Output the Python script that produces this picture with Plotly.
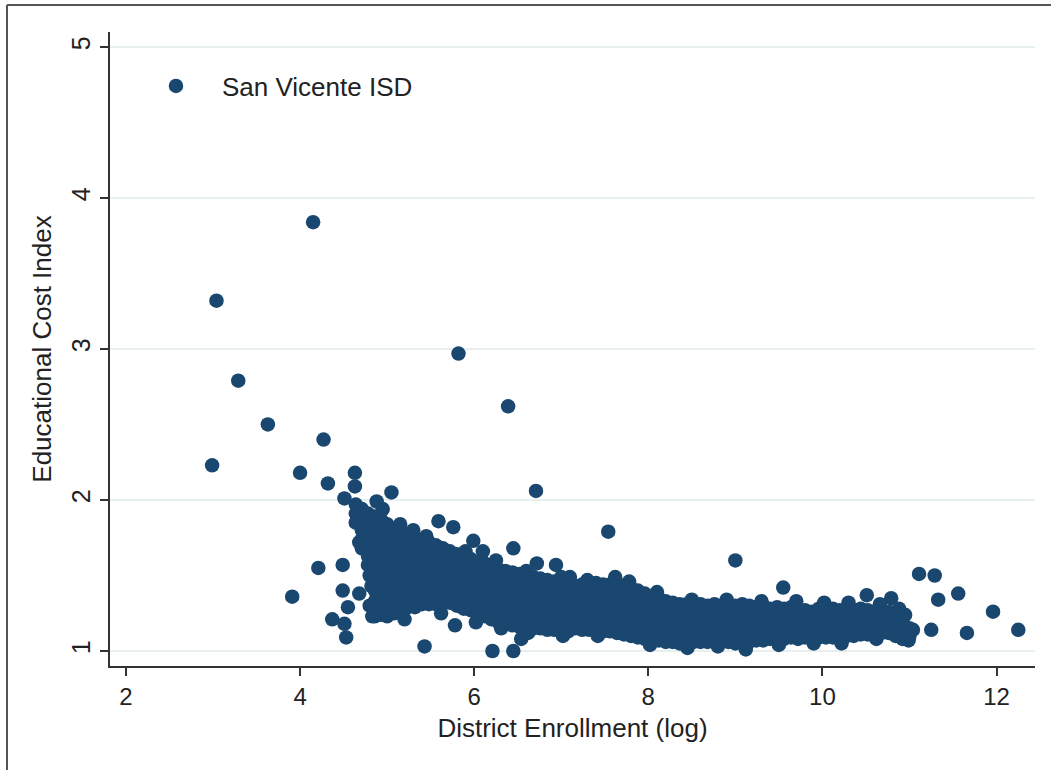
import plotly.graph_objects as go

# ---- scattered / edge points (log enrollment, cost index) ----
scatter_x = [2.99, 3.04, 3.29, 3.63, 3.91, 4.00, 4.15, 4.21, 4.27, 4.32, 4.37, 4.49, 4.49,
             4.55, 4.51, 4.53, 4.51, 4.63, 4.63, 4.68, 4.68, 4.88, 4.95, 5.05, 5.43, 5.30,
             5.59, 5.76, 5.78, 5.82, 5.99, 6.10, 6.21, 6.31, 6.39, 6.45, 6.45, 6.54, 6.71,
             6.72, 6.94, 7.10, 7.54, 9.00, 9.55, 10.51, 10.79, 10.88, 11.04, 10.99, 11.11,
             11.29, 11.33, 11.56, 11.25, 11.66, 11.96, 12.25]
scatter_y = [2.23, 3.32, 2.79, 2.50, 1.36, 2.18, 3.84, 1.55, 2.40, 2.11, 1.21, 1.57, 1.40,
             1.29, 1.18, 1.09, 2.01, 2.18, 2.09, 1.72, 1.38, 1.99, 1.94, 2.05, 1.03, 1.80,
             1.86, 1.82, 1.17, 2.97, 1.73, 1.66, 1.00, 1.15, 2.62, 1.68, 1.00, 1.08, 2.06,
             1.58, 1.57, 1.49, 1.79, 1.60, 1.42, 1.37, 1.35, 1.28, 1.14, 1.07, 1.51,
             1.50, 1.34, 1.38, 1.14, 1.12, 1.26, 1.14]

# ---- ragged edge points of the main cloud ----
edge_x = [4.80, 4.82, 5.15, 5.45, 5.90, 6.25, 6.60, 7.00, 7.30, 7.62, 7.78, 8.10, 8.50,
          8.90, 9.30, 9.70, 10.02, 10.30, 10.66, 10.95,
          5.20, 5.62, 6.02, 6.62, 7.02, 7.42, 8.02, 8.45, 8.80, 9.12, 9.50, 9.90,
          10.22, 10.62, 4.80, 4.83]
edge_y = [1.50, 1.43, 1.84, 1.76, 1.66, 1.60, 1.53, 1.49, 1.47, 1.49, 1.46, 1.39, 1.34,
          1.34, 1.33, 1.33, 1.32, 1.32, 1.31, 1.24,
          1.21, 1.25, 1.19, 1.12, 1.10, 1.10, 1.04, 1.02, 1.03, 1.01, 1.04, 1.05,
          1.05, 1.08, 1.30, 1.23]

# ---- dense cloud, small districts (log enrollment 4.6 - 6.0) ----
small_x = [4.64, 4.64, 4.64,
           4.71, 4.71, 4.71, 4.71, 4.71,
           4.78, 4.78, 4.78, 4.78, 4.78, 4.78,
           4.86, 4.86, 4.86, 4.86, 4.86, 4.86, 4.86, 4.86, 4.86, 4.86, 4.86,
           4.93, 4.93, 4.93, 4.93, 4.93, 4.93, 4.93, 4.93, 4.93, 4.93,
           5.00, 5.00, 5.00, 5.00, 5.00, 5.00, 5.00, 5.00, 5.00, 5.00,
           5.08, 5.08, 5.08, 5.08, 5.08, 5.08, 5.08, 5.08, 5.08,
           5.16, 5.16, 5.16, 5.16, 5.16, 5.16, 5.16, 5.16, 5.16,
           5.24, 5.24, 5.24, 5.24, 5.24, 5.24, 5.24, 5.24,
           5.32, 5.32, 5.32, 5.32, 5.32, 5.32, 5.32, 5.32,
           5.40, 5.40, 5.40, 5.40, 5.40, 5.40, 5.40,
           5.48, 5.48, 5.48, 5.48, 5.48, 5.48, 5.48,
           5.56, 5.56, 5.56, 5.56, 5.56, 5.56, 5.56,
           5.64, 5.64, 5.64, 5.64, 5.64, 5.64, 5.64,
           5.72, 5.72, 5.72, 5.72, 5.72, 5.72,
           5.80, 5.80, 5.80, 5.80, 5.80, 5.80,
           5.88, 5.88, 5.88, 5.88, 5.88, 5.88,
           5.96, 5.96, 5.96, 5.96, 5.96, 5.96]
small_y = [1.97, 1.91, 1.85,
           1.94, 1.87, 1.80, 1.74, 1.68,
           1.91, 1.84, 1.77, 1.70, 1.63, 1.57,
           1.89, 1.82, 1.75, 1.68, 1.61, 1.54, 1.47, 1.40, 1.33, 1.27, 1.23,
           1.87, 1.80, 1.73, 1.66, 1.59, 1.52, 1.45, 1.38, 1.31, 1.24,
           1.84, 1.77, 1.70, 1.63, 1.56, 1.49, 1.42, 1.35, 1.28, 1.23,
           1.81, 1.74, 1.67, 1.60, 1.53, 1.46, 1.39, 1.32, 1.25,
           1.79, 1.72, 1.65, 1.58, 1.51, 1.44, 1.37, 1.30, 1.26,
           1.77, 1.70, 1.63, 1.56, 1.49, 1.42, 1.35, 1.29,
           1.75, 1.68, 1.61, 1.54, 1.47, 1.40, 1.33, 1.29,
           1.73, 1.66, 1.59, 1.52, 1.45, 1.38, 1.31,
           1.72, 1.65, 1.58, 1.51, 1.44, 1.37, 1.31,
           1.70, 1.63, 1.56, 1.49, 1.42, 1.35, 1.31,
           1.68, 1.61, 1.54, 1.47, 1.40, 1.33, 1.32,
           1.66, 1.59, 1.52, 1.45, 1.38, 1.32,
           1.64, 1.57, 1.50, 1.43, 1.36, 1.30,
           1.63, 1.56, 1.49, 1.42, 1.35, 1.28,
           1.61, 1.54, 1.47, 1.40, 1.33, 1.27]

# ---- dense cloud, mid-size districts (log enrollment 6.0 - 8.2) ----
mid_x = [6.04, 6.04, 6.04, 6.04, 6.04, 6.04,
         6.12, 6.12, 6.12, 6.12, 6.12, 6.12,
         6.20, 6.20, 6.20, 6.20, 6.20, 6.20,
         6.28, 6.28, 6.28, 6.28, 6.28, 6.28,
         6.36, 6.36, 6.36, 6.36, 6.36, 6.36,
         6.44, 6.44, 6.44, 6.44, 6.44, 6.44,
         6.52, 6.52, 6.52, 6.52, 6.52, 6.52,
         6.60, 6.60, 6.60, 6.60, 6.60, 6.60,
         6.68, 6.68, 6.68, 6.68, 6.68, 6.68,
         6.76, 6.76, 6.76, 6.76, 6.76, 6.76,
         6.84, 6.84, 6.84, 6.84, 6.84, 6.84,
         6.92, 6.92, 6.92, 6.92, 6.92, 6.92,
         7.00, 7.00, 7.00, 7.00, 7.00, 7.00,
         7.08, 7.08, 7.08, 7.08, 7.08, 7.08,
         7.16, 7.16, 7.16, 7.16, 7.16,
         7.24, 7.24, 7.24, 7.24, 7.24, 7.24,
         7.32, 7.32, 7.32, 7.32, 7.32, 7.32,
         7.40, 7.40, 7.40, 7.40, 7.40, 7.40,
         7.48, 7.48, 7.48, 7.48, 7.48, 7.48,
         7.56, 7.56, 7.56, 7.56, 7.56, 7.56,
         7.64, 7.64, 7.64, 7.64, 7.64, 7.64,
         7.72, 7.72, 7.72, 7.72, 7.72, 7.72,
         7.80, 7.80, 7.80, 7.80, 7.80, 7.80,
         7.88, 7.88, 7.88, 7.88, 7.88, 7.88,
         7.96, 7.96, 7.96, 7.96, 7.96, 7.96,
         8.04, 8.04, 8.04, 8.04, 8.04,
         8.12, 8.12, 8.12, 8.12, 8.12,
         8.20, 8.20, 8.20, 8.20, 8.20]
mid_y = [1.59, 1.52, 1.45, 1.38, 1.31, 1.25,
         1.58, 1.51, 1.44, 1.37, 1.30, 1.23,
         1.56, 1.49, 1.42, 1.35, 1.28, 1.21,
         1.54, 1.47, 1.40, 1.33, 1.26, 1.19,
         1.53, 1.46, 1.39, 1.32, 1.25, 1.18,
         1.52, 1.45, 1.38, 1.31, 1.24, 1.17,
         1.51, 1.44, 1.37, 1.30, 1.23, 1.16,
         1.50, 1.43, 1.36, 1.29, 1.22, 1.16,
         1.49, 1.42, 1.35, 1.28, 1.21, 1.15,
         1.48, 1.41, 1.34, 1.27, 1.20, 1.15,
         1.47, 1.40, 1.33, 1.26, 1.19, 1.14,
         1.46, 1.39, 1.32, 1.25, 1.18, 1.14,
         1.45, 1.38, 1.31, 1.24, 1.17, 1.13,
         1.44, 1.37, 1.30, 1.23, 1.16, 1.13,
         1.43, 1.36, 1.29, 1.22, 1.15,
         1.44, 1.37, 1.30, 1.23, 1.16, 1.14,
         1.44, 1.37, 1.30, 1.23, 1.16, 1.14,
         1.45, 1.38, 1.31, 1.24, 1.17, 1.14,
         1.44, 1.37, 1.30, 1.23, 1.16, 1.13,
         1.44, 1.37, 1.30, 1.23, 1.16, 1.13,
         1.45, 1.38, 1.31, 1.24, 1.17, 1.12,
         1.43, 1.36, 1.29, 1.22, 1.15, 1.11,
         1.42, 1.35, 1.28, 1.21, 1.14, 1.10,
         1.40, 1.33, 1.26, 1.19, 1.12, 1.09,
         1.38, 1.31, 1.24, 1.17, 1.10, 1.08,
         1.36, 1.29, 1.22, 1.15, 1.08,
         1.35, 1.28, 1.21, 1.14, 1.07,
         1.33, 1.26, 1.19, 1.12, 1.06]

# ---- dense cloud, large districts (log enrollment 8.3 - 11.0) ----
large_x = [8.28, 8.28, 8.28, 8.28, 8.28,
           8.36, 8.36, 8.36, 8.36, 8.36,
           8.44, 8.44, 8.44, 8.44, 8.44,
           8.52, 8.52, 8.52, 8.52, 8.52,
           8.60, 8.60, 8.60, 8.60, 8.60,
           8.68, 8.68, 8.68, 8.68, 8.68,
           8.76, 8.76, 8.76, 8.76, 8.76,
           8.84, 8.84, 8.84, 8.84, 8.84,
           8.92, 8.92, 8.92, 8.92, 8.92,
           9.00, 9.00, 9.00, 9.00, 9.00,
           9.08, 9.08, 9.08, 9.08, 9.08,
           9.16, 9.16, 9.16, 9.16, 9.16,
           9.24, 9.24, 9.24, 9.24, 9.24,
           9.32, 9.32, 9.32, 9.32, 9.32,
           9.40, 9.40, 9.40, 9.40,
           9.48, 9.48, 9.48, 9.48,
           9.56, 9.56, 9.56, 9.56,
           9.64, 9.64, 9.64, 9.64,
           9.72, 9.72, 9.72, 9.72,
           9.80, 9.80, 9.80, 9.80,
           9.88, 9.88, 9.88, 9.88,
           9.96, 9.96, 9.96, 9.96,
           10.04, 10.04, 10.04, 10.04,
           10.12, 10.12, 10.12, 10.12,
           10.20, 10.20, 10.20, 10.20,
           10.28, 10.28, 10.28, 10.28,
           10.36, 10.36, 10.36, 10.36,
           10.44, 10.44, 10.44, 10.44,
           10.52, 10.52, 10.52, 10.52,
           10.60, 10.60, 10.60,
           10.68, 10.68, 10.68,
           10.76, 10.76, 10.76,
           10.84, 10.84, 10.84,
           10.92, 10.92, 10.92,
           11.00, 11.00]
large_y = [1.32, 1.25, 1.18, 1.11, 1.06,
           1.31, 1.24, 1.17, 1.10, 1.05,
           1.31, 1.24, 1.17, 1.10, 1.05,
           1.30, 1.23, 1.16, 1.09, 1.06,
           1.31, 1.24, 1.17, 1.10, 1.06,
           1.30, 1.23, 1.16, 1.09, 1.06,
           1.31, 1.24, 1.17, 1.10, 1.06,
           1.30, 1.23, 1.16, 1.09, 1.07,
           1.31, 1.24, 1.17, 1.10, 1.06,
           1.30, 1.23, 1.16, 1.09, 1.05,
           1.31, 1.24, 1.17, 1.10, 1.05,
           1.30, 1.23, 1.16, 1.09, 1.06,
           1.29, 1.22, 1.15, 1.08, 1.07,
           1.30, 1.23, 1.16, 1.09, 1.07,
           1.28, 1.21, 1.14, 1.08,
           1.29, 1.22, 1.15, 1.09,
           1.28, 1.21, 1.14, 1.08,
           1.29, 1.22, 1.15, 1.09,
           1.28, 1.21, 1.14, 1.08,
           1.27, 1.20, 1.13, 1.09,
           1.26, 1.19, 1.12, 1.10,
           1.28, 1.21, 1.14, 1.09,
           1.29, 1.22, 1.15, 1.09,
           1.28, 1.21, 1.14, 1.09,
           1.27, 1.20, 1.13, 1.10,
           1.28, 1.21, 1.14, 1.10,
           1.27, 1.20, 1.13, 1.10,
           1.28, 1.21, 1.14, 1.11,
           1.27, 1.20, 1.13, 1.11,
           1.26, 1.19, 1.12,
           1.25, 1.18, 1.12,
           1.26, 1.19, 1.12,
           1.22, 1.15, 1.10,
           1.20, 1.13, 1.08,
           1.15, 1.10]

x_ticks = [2, 4, 6, 8, 10, 12]
y_ticks = [1, 2, 3, 4, 5]
series_name = "San Vicente ISD"
x_title = "District Enrollment (log)"
y_title = "Educational Cost Index"

enroll = scatter_x + edge_x + small_x + mid_x + large_x
cost = scatter_y + edge_y + small_y + mid_y + large_y

NAVY = "#1a476f"
FONT = "Liberation Sans, Arial, Helvetica, sans-serif"
TXT = "#222222"

fig = go.Figure()
fig.add_trace(go.Scatter(
    x=enroll, y=cost, mode="markers", name=series_name,
    marker=dict(size=14.5, color=NAVY, line=dict(width=0)),
    showlegend=True,
))

fig.update_layout(
    width=1051, height=770,
    margin=dict(l=110, r=16, t=32, b=104, autoexpand=False),
    paper_bgcolor="white", plot_bgcolor="white",
    font=dict(family=FONT, color=TXT, size=24),
    showlegend=True,
    legend=dict(x=0.0216, y=0.9148, xanchor="left", yanchor="middle",
                itemwidth=82, font=dict(size=26, color=TXT),
                bgcolor="rgba(0,0,0,0)", borderwidth=0),
    xaxis=dict(
        range=[1.817, 12.442], tickvals=x_ticks, ticks="outside", ticklen=8,
        tickwidth=1.5, tickcolor="#333", showline=True, linecolor="#333",
        linewidth=1.5, showgrid=False, zeroline=False,
        tickfont=dict(size=24, color=TXT),
        title=dict(text=x_title, font=dict(size=26, color=TXT), standoff=10),
    ),
    yaxis=dict(
        range=[0.9007, 5.099], tickvals=y_ticks, ticks="outside", ticklen=8,
        tickwidth=1.5, tickcolor="#333", showline=True, linecolor="#333",
        linewidth=1.5, showgrid=True, gridcolor="#e7eff1", gridwidth=1.5,
        zeroline=False, tickangle=-90,
        tickfont=dict(size=25, color=TXT),
        title=dict(text=y_title, font=dict(size=26, color=TXT), standoff=8),
    ),
    shapes=[
        dict(type="line", xref="paper", yref="paper",
             x0=(7 - 110) / 925, x1=(1051 - 110) / 925,
             y0=1 + (32 - 5) / 634, y1=1 + (32 - 5) / 634,
             line=dict(color="#555", width=2)),
        dict(type="line", xref="paper", yref="paper",
             x0=(7 - 110) / 925, x1=(7 - 110) / 925,
             y0=1 + (32 - 5) / 634, y1=-(104) / 634,
             line=dict(color="#555", width=2)),
    ],
)

fig.write_html("out.html")
